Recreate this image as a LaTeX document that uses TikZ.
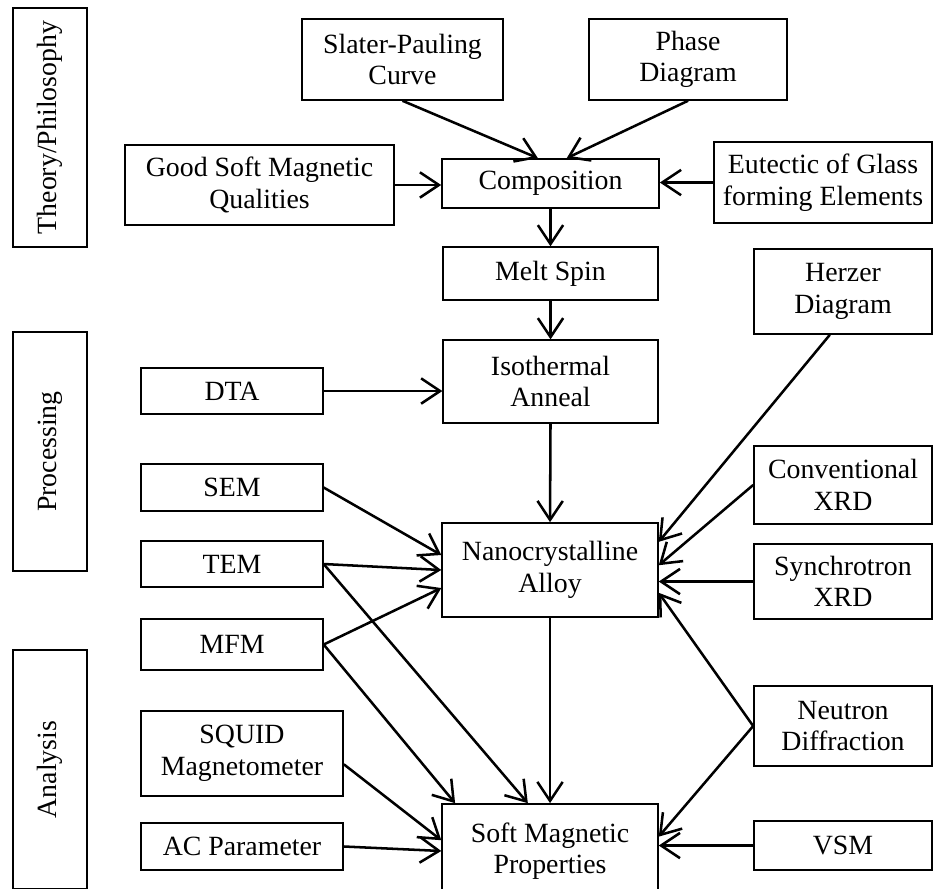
\documentclass[tikz,border=0pt]{standalone}
\usepackage{fontspec}
\setmainfont{Liberation Serif}
\usepackage{tikz}
\usetikzlibrary{arrows.meta}

\begin{document}
\begin{tikzpicture}[box/.style={draw, line width=0.7pt, align=center, inner sep=0pt, font=\fontsize{13.2}{15}\selectfont},
	link/.style={line width=1.2pt, -{Straight Barb[length=9pt,width=12pt]}}]
				\useasboundingbox (0,0) rectangle (15.6,-14.8);
				% stage labels
				\path (0.833,-2.125) node[box, rotate=90, minimum width=3.98cm, minimum height=1.23cm] (theory){Theory/Philosophy}
				(0.833,-7.525) node[box, rotate=90, minimum width=3.98cm, minimum height=1.23cm] (proc){Processing}
				(0.833,-12.825) node[box, rotate=90, minimum width=3.98cm, minimum height=1.23cm] (anal){Analysis};
				
				% middle column
				\path (9.175,-3.058) node[box, minimum width=3.62cm, minimum height=0.82cm] (comp){Composition}
				(9.175,-4.558) node[box, minimum width=3.58cm, minimum height=0.88cm] (melt){Melt Spin}
				(9.175,-6.358) node[box, minimum width=3.58cm, minimum height=1.38cm] (iso){Isothermal\\Anneal}
				(9.167,-9.5) node[box, minimum width=3.6cm, minimum height=1.57cm] (nano){Nanocrystalline\\Alloy}
				(9.167,-14.183) node[box, minimum width=3.6cm, minimum height=1.57cm] (soft){Soft Magnetic\\Properties};
				
				% top row
				\path (6.708,-0.992) node[box, minimum width=3.35cm, minimum height=1.35cm] (slater){Slater-Pauling\\Curve}
				(11.467,-0.992) node[box, minimum width=3.3cm, minimum height=1.35cm] (phase){Phase\\Diagram}
				(4.325,-3.083) node[box, minimum width=4.48cm, minimum height=1.33cm] (good){Good Soft Magnetic\\Qualities}
				(13.717,-3.042) node[box, minimum width=3.63cm, minimum height=1.35cm] (eutec){Eutectic of Glass\\forming Elements};
				
				% left column
				\path (3.867,-6.517) node[box, minimum width=3.03cm, minimum height=0.77cm] (dta){DTA}
				(3.867,-8.125) node[box, minimum width=3.03cm, minimum height=0.78cm] (sem){SEM}
				(3.867,-9.4) node[box, minimum width=3.03cm, minimum height=0.77cm] (tem){TEM}
				(3.867,-10.742) node[box, minimum width=3.03cm, minimum height=0.85cm] (mfm){MFM}
				(4.033,-12.558) node[box, minimum width=3.37cm, minimum height=1.42cm] (squid){SQUID\\Magnetometer}
				(4.033,-14.108) node[box, minimum width=3.37cm, minimum height=0.78cm] (ac){AC Parameter};
				
				% right column
				\path (14.05,-4.858) node[box, minimum width=2.97cm, minimum height=1.42cm] (herzer){Herzer\\Diagram}
				(14.05,-8.083) node[box, minimum width=2.97cm, minimum height=1.3cm] (conv){Conventional\\XRD}
				(14.05,-9.692) node[box, minimum width=2.97cm, minimum height=1.25cm] (sync){Synchrotron\\XRD}
				(14.05,-12.1) node[box, minimum width=2.97cm, minimum height=1.33cm] (neut){Neutron\\Diffraction}
				(14.05,-14.092) node[box, minimum width=2.97cm, minimum height=0.82cm] (vsm){VSM};
				
				\draw[link] (slater.south) -- ([xshift=-0.21cm]comp.north);
				\draw[link] (phase.south) -- ([xshift=0.27cm]comp.north);
				\draw[link] (good.east) -- (good.east -| comp.west);
				\draw[link] (eutec.west) -- (eutec.west -| comp.east);
				\draw[link] (comp.south) -- (melt.north);
				\draw[link] (melt.south) -- (iso.north);
				\draw[link] (dta.east) -- (dta.east -| iso.west);
				\draw[link] (iso.south) -- (nano.north);
				\draw[link] (nano.south) -- (soft.north);
				\draw[link] (sem.east) -- ([yshift=0.25cm]nano.west);
				\draw[link] (tem.east) -- (nano.west);
				\draw[link] (mfm.east) -- ([yshift=-0.3cm]nano.west);
				\draw[link] (tem.east) -- ([xshift=-0.37cm]soft.north);
				\draw[link] (mfm.east) -- ([xshift=0.23cm]soft.north west);
				\draw[link] ([yshift=-0.18cm]squid.east) -- ([yshift=0.18cm]soft.west);
				\draw[link] (ac.east) -- (soft.west);
				\draw[link] ([xshift=-0.22cm]herzer.south) -- ([yshift=0.47cm]nano.east);
				\draw[link] (conv.west) -- ([yshift=0.08cm]nano.east);
				\draw[link] (sync.west) -- (sync.west -| nano.east);
				\draw[link] (neut.west) -- ([yshift=-0.38cm]nano.east);
				\draw[link] (neut.west) -- ([yshift=0.24cm]soft.east);
				\draw[link] (vsm.west) -- (vsm.west -| soft.east);
			\end{tikzpicture}
\end{document}
